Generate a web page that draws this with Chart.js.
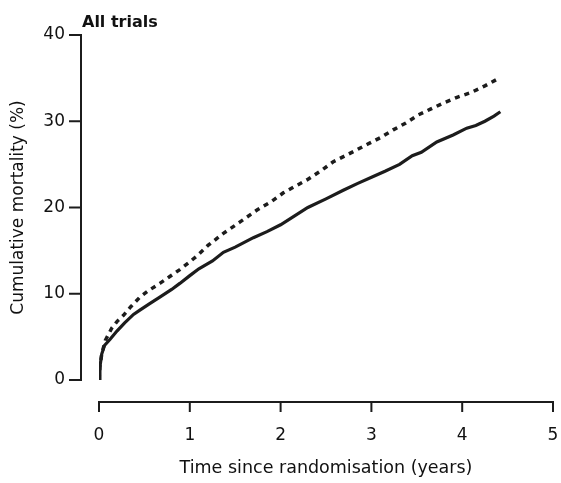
<!DOCTYPE html>
<html>
<head>
<meta charset="utf-8">
<script src="https://cdn.jsdelivr.net/npm/chart.js@4/dist/chart.umd.min.js"></script>
<style>
    html, body { margin: 0; padding: 0; background: #fff; }
    #wrap { width: 561px; height: 483px; }
</style>
</head>
<body>
<div id="wrap"><canvas id="mortalityChart" width="561" height="483"></canvas></div>
<script>
// time (years) and cumulative mortality (%)
const solidTimes = [0, 0.01, 0.03, 0.06, 0.12, 0.2, 0.28, 0.38, 0.45, 0.55, 0.67, 0.8, 0.89, 1.0, 1.1, 1.25, 1.37, 1.5, 1.7, 1.85, 2.0, 2.15, 2.3, 2.5, 2.69, 2.85, 3.02, 3.15, 3.31, 3.45, 3.55, 3.72, 3.9, 4.05, 4.15, 4.25, 4.35, 4.42];
const solidValues = [0, 1.5, 3.0, 4.0, 4.7, 5.7, 6.6, 7.6, 8.1, 8.8, 9.6, 10.5, 11.2, 12.1, 12.9, 13.8, 14.8, 15.4, 16.5, 17.2, 18.0, 19.0, 20.0, 21.0, 22.0, 22.8, 23.6, 24.2, 25.0, 26.0, 26.4, 27.6, 28.4, 29.2, 29.5, 30.0, 30.6, 31.1];

const dashedTimes = [0, 0.01, 0.03, 0.07, 0.14, 0.2, 0.27, 0.35, 0.45, 0.55, 0.67, 0.78, 0.89, 1.0, 1.08, 1.2, 1.37, 1.55, 1.74, 1.9, 2.03, 2.15, 2.29, 2.45, 2.58, 2.75, 2.95, 3.1, 3.24, 3.38, 3.51, 3.65, 3.79, 3.95, 4.09, 4.25, 4.39];
const dashedValues = [0, 1.5, 3.0, 4.6, 6.0, 6.8, 7.5, 8.5, 9.6, 10.4, 11.2, 12.0, 12.8, 13.7, 14.4, 15.6, 17.0, 18.3, 19.7, 20.7, 21.7, 22.4, 23.2, 24.3, 25.3, 26.2, 27.3, 28.1, 29.0, 29.8, 30.7, 31.4, 32.1, 32.8, 33.3, 34.1, 34.9];

const xTickLabels = [0, 1, 2, 3, 4, 5];
const yTickLabels = [0, 10, 20, 30, 40];

const ink = "#1c1c1c";

// detached axes, drawn off to the side of the plot like the printed figure
const offsetAxes = {
    id: "offsetAxes",
    afterDraw(chart) {
        const { ctx, scales } = chart;
        const xs = scales.x;
        const ys = scales.y;
        const axisX = 81;
        const axisY = 402;

        ctx.save();
        ctx.strokeStyle = ink;
        ctx.lineWidth = 2;
        ctx.lineCap = "square";

        ctx.beginPath();
        ctx.moveTo(axisX, ys.getPixelForValue(40));
        ctx.lineTo(axisX, ys.getPixelForValue(0));
        yTickLabels.forEach((v) => {
            const py = ys.getPixelForValue(v);
            ctx.moveTo(70, py);
            ctx.lineTo(axisX, py);
        });
        ctx.stroke();

        ctx.beginPath();
        ctx.moveTo(xs.getPixelForValue(0), axisY);
        ctx.lineTo(xs.getPixelForValue(5), axisY);
        xTickLabels.forEach((v) => {
            const px = xs.getPixelForValue(v);
            ctx.moveTo(px, axisY);
            ctx.lineTo(px, axisY + 9);
        });
        ctx.stroke();

        // panel label
        ctx.fillStyle = "#111";
        ctx.font = "bold 16px 'DejaVu Sans'";
        ctx.textBaseline = "alphabetic";
        ctx.fillText("All trials", 82, 27);
        ctx.restore();
    },
};

// invisible tick marks: they only push the labels clear of the detached axes
const hiddenTicks = (len) => ({
    display: true,
    drawOnChartArea: false,
    drawTicks: true,
    tickLength: len,
    color: "rgba(0,0,0,0)",
});

const ctx = document.getElementById("mortalityChart");

new Chart(ctx, {
    type: "line",

    data: {
        datasets: [
            {
                label: "Dashed",
                data: dashedTimes.map((t, i) => ({ x: t, y: dashedValues[i] })),
                borderColor: ink,
                borderWidth: 3.5,
                borderDash: [5, 5],
                pointRadius: 0,
                tension: 0,
                fill: false,
            },
            {
                label: "Solid",
                data: solidTimes.map((t, i) => ({ x: t, y: solidValues[i] })),
                borderColor: ink,
                borderWidth: 3.2,
                pointRadius: 0,
                tension: 0,
                fill: false,
            },
        ],
    },

    options: {
        responsive: false,
        animation: false,
        layout: {
            padding: { top: 35, right: 8, left: 8, bottom: 0 },
        },

        plugins: {
            legend: { display: false },
            tooltip: { enabled: false },
        },

        scales: {
            x: {
                type: "linear",
                min: 0,
                max: 5,
                afterFit: (scale) => { scale.height = 103; },
                afterBuildTicks: (scale) => {
                    scale.ticks = xTickLabels.map((v) => ({ value: v }));
                },
                grid: hiddenTicks(43),
                border: { display: false },
                ticks: {
                    padding: 2,
                    color: "#111",
                    font: { family: "'DejaVu Sans'", size: 17 },
                    maxRotation: 0,
                },
                title: {
                    display: true,
                    text: "Time since randomisation (years)",
                    color: "#111",
                    font: { family: "'DejaVu Sans'", size: 17.5 },
                    padding: { top: 0, bottom: 4 },
                },
            },
            y: {
                min: 0,
                max: 40,
                afterFit: (scale) => { scale.width = 91; },
                afterBuildTicks: (scale) => {
                    scale.ticks = yTickLabels.map((v) => ({ value: v }));
                },
                grid: hiddenTicks(32),
                border: { display: false },
                ticks: {
                    padding: 2,
                    color: "#111",
                    font: { family: "'DejaVu Sans'", size: 17 },
                },
                title: {
                    display: true,
                    text: "Cumulative mortality (%)",
                    color: "#111",
                    font: { family: "'DejaVu Sans'", size: 17 },
                    padding: { top: 0, bottom: 0 },
                },
            },
        },
    },

    plugins: [offsetAxes],
});
</script>
</body>
</html>
